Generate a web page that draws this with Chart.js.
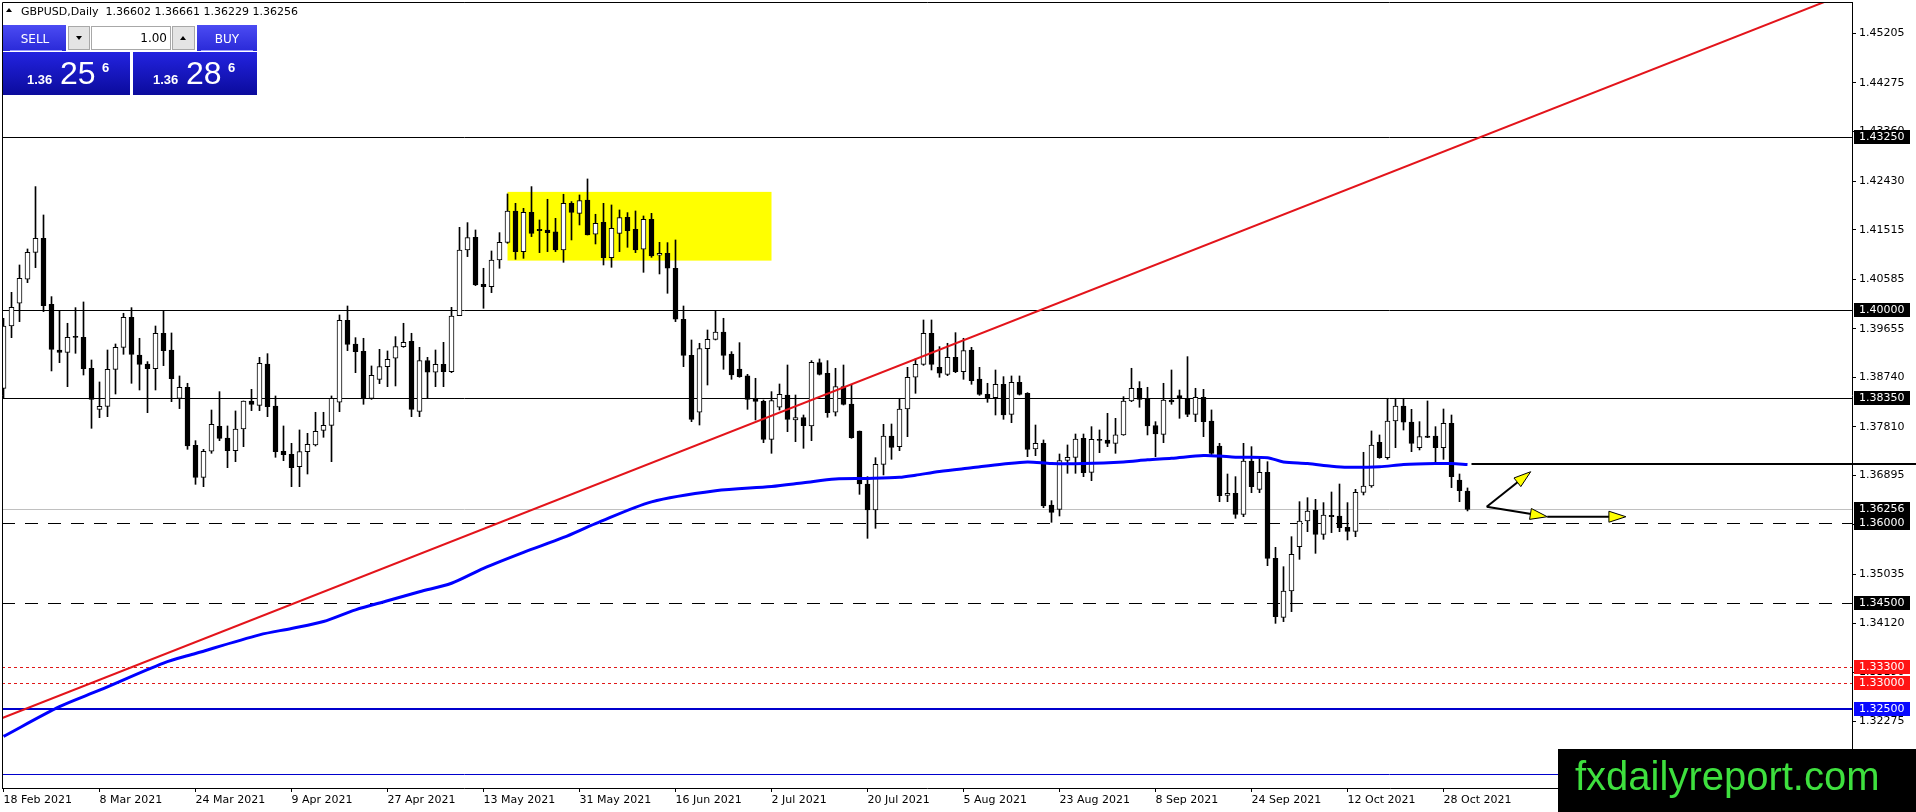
<!DOCTYPE html>
<html>
<head>
<meta charset="utf-8">
<title>GBPUSD, Daily</title>
<script src="https://cdn.jsdelivr.net/npm/chart.js@4.4.0/dist/chart.umd.min.js"></script>
<style>
  html, body { margin: 0; padding: 0; background: #fff; overflow: hidden; }
  #wrap { position: relative; width: 1916px; height: 812px; }
</style>
</head>
<body>
<div id="wrap"><canvas id="chart" width="1916" height="812"></canvas></div>
<script>
// ---- data ----
const dateLabels = ["18 Feb 2021", "8 Mar 2021", "24 Mar 2021", "9 Apr 2021", "27 Apr 2021", "13 May 2021",
  "31 May 2021", "16 Jun 2021", "2 Jul 2021", "20 Jul 2021", "5 Aug 2021", "23 Aug 2021",
  "8 Sep 2021", "24 Sep 2021", "12 Oct 2021", "28 Oct 2021"];
const dateBars = [0, 12, 24, 36, 48, 60, 72, 84, 96, 108, 120, 132, 144, 156, 168, 180];
const priceTicks = [1.45205, 1.44275, 1.43360, 1.42430, 1.41515, 1.40585, 1.39655, 1.38740,
  1.37810, 1.36895, 1.35965, 1.35035, 1.34120, 1.33190, 1.32275];

const opens = [1.38534,1.39705,1.40132,1.40583,1.41090,1.41353,1.40113,1.39254,1.39210,1.39492,
  1.39492,1.38910,1.38139,1.38195,1.38891,1.39304,1.39868,1.39160,1.38991,1.38903,
  1.39568,1.39254,1.38346,1.38553,1.37462,1.36861,1.37350,1.37819,1.37600,1.37362,
  1.37769,1.38296,1.38214,1.38991,1.38202,1.37350,1.37293,1.37061,1.37343,1.37469,
  1.37744,1.37838,1.38271,1.39812,1.39367,1.39229,1.38346,1.38703,1.38941,1.39098,
  1.39317,1.39417,1.38101,1.39054,1.38835,1.38985,1.38847,1.39900,1.41134,1.41372,
  1.40489,1.40445,1.40946,1.41278,1.41867,1.41103,1.41842,1.41523,1.41510,1.41473,
  1.41134,1.42011,1.41823,1.42074,1.41429,1.41654,1.40990,1.41447,1.41748,1.41523,
  1.41147,1.41711,1.41034,1.41071,1.40790,1.39831,1.39154,1.38083,1.39279,1.39455,
  1.39593,1.39179,1.38897,1.38766,1.38340,1.38289,1.37575,1.38177,1.38408,1.37938,
  1.37982,1.37826,1.39016,1.38816,1.38083,1.38565,1.38239,1.37732,1.36735,1.36247,
  1.37105,1.37638,1.37437,1.38145,1.38741,1.38985,1.39568,1.38928,1.38797,1.39116,
  1.38847,1.39254,1.38709,1.38421,1.38358,1.38609,1.38045,1.38647,1.38440,1.37393,
  1.37500,1.36341,1.36259,1.37180,1.37237,1.37594,1.36955,1.37575,1.37563,1.37500,
  1.37657,1.38296,1.38534,1.38346,1.37832,1.37669,1.38314,1.38396,1.38346,1.38045,
  1.38365,1.37920,1.37450,1.36522,1.36560,1.36165,1.37168,1.36635,1.36955,1.35338,
  1.34229,1.34724,1.35557,1.36040,1.36247,1.35789,1.36146,1.36134,1.35921,1.35846,
  1.36579,1.36698,1.37519,1.37230,1.37920,1.38202,1.37901,1.37418,1.37638,1.37638,
  1.37418,1.37876,1.36811,1.36602];
const highs = [1.39850,1.40338,1.40852,1.41153,1.42325,1.41792,1.40257,1.40000,1.39756,1.40050,
  1.40157,1.39066,1.38653,1.39254,1.39367,1.39944,1.40050,1.39474,1.39035,1.39705,
  1.40000,1.39574,1.38766,1.38628,1.37550,1.37387,1.38126,1.38471,1.37826,1.38108,
  1.38296,1.38515,1.39116,1.39185,1.38390,1.37826,1.37500,1.37751,1.37688,1.38083,
  1.38083,1.38390,1.39912,1.40081,1.39486,1.39474,1.38954,1.39267,1.39236,1.39505,
  1.39756,1.39568,1.39304,1.39116,1.39254,1.39398,1.40056,1.41560,1.41648,1.41510,
  1.40790,1.41115,1.41460,1.42187,1.42011,1.41917,1.42325,1.41698,1.42087,1.41729,
  1.42181,1.42043,1.42168,1.42469,1.41805,1.42011,1.41980,1.41886,1.41836,1.41867,
  1.41773,1.41823,1.41278,1.41272,1.41322,1.40081,1.39442,1.39380,1.39630,1.40000,
  1.39850,1.39223,1.39392,1.38797,1.38722,1.38314,1.38471,1.38615,1.38972,1.38408,
  1.38032,1.39054,1.39085,1.39054,1.38910,1.38972,1.38609,1.37732,1.36873,1.37230,
  1.37857,1.37863,1.38346,1.38928,1.39085,1.39818,1.39818,1.39317,1.39380,1.39580,
  1.39474,1.39304,1.38928,1.38628,1.38878,1.38753,1.38766,1.38766,1.38452,1.37844,
  1.37563,1.36422,1.37299,1.37469,1.37675,1.37675,1.37813,1.37751,1.38064,1.37970,
  1.38377,1.38910,1.38659,1.38553,1.37907,1.38628,1.38878,1.38502,1.39129,1.38534,
  1.38515,1.38127,1.37500,1.36923,1.36873,1.37500,1.37437,1.37249,1.37155,1.35545,
  1.35181,1.35745,1.36403,1.36478,1.36447,1.36385,1.36585,1.36735,1.36385,1.36635,
  1.37331,1.37732,1.37657,1.38346,1.38346,1.38346,1.38139,1.37907,1.38296,1.37813,
  1.38145,1.38032,1.36923,1.36661];
const lows = [1.38346,1.39486,1.39787,1.40520,1.40802,1.39975,1.38860,1.39016,1.38565,1.39192,
  1.38784,1.37782,1.37982,1.38001,1.38427,1.39173,1.38628,1.38502,1.38076,1.38502,
  1.38960,1.38283,1.38152,1.37387,1.36729,1.36685,1.37312,1.37550,1.37042,1.37155,
  1.37437,1.38114,1.38114,1.38001,1.37237,1.37174,1.36685,1.36685,1.36923,1.37450,
  1.37613,1.37155,1.38095,1.39242,1.38828,1.38233,1.38327,1.38621,1.38565,1.38578,
  1.39304,1.38001,1.38001,1.38346,1.38565,1.38565,1.38828,1.39900,1.41009,1.40464,
  1.40038,1.40332,1.40790,1.41259,1.40959,1.40977,1.41385,1.41084,1.41103,1.41103,
  1.40902,1.41322,1.41604,1.41416,1.41247,1.40852,1.40808,1.41103,1.41184,1.41084,
  1.40714,1.40996,1.40683,1.40320,1.39787,1.38941,1.37907,1.37844,1.38596,1.39442,
  1.38891,1.38703,1.38741,1.38139,1.37938,1.37512,1.37312,1.38126,1.37719,1.37531,
  1.37406,1.37550,1.38784,1.37989,1.38014,1.38220,1.37594,1.36541,1.35714,1.35902,
  1.36905,1.37199,1.37362,1.37625,1.38440,1.38966,1.38878,1.38741,1.38772,1.38828,
  1.38703,1.38609,1.38402,1.38271,1.38032,1.37951,1.37888,1.38408,1.37249,1.37268,
  1.36290,1.36015,1.36134,1.36936,1.36936,1.36873,1.36798,1.37324,1.37437,1.37312,
  1.37650,1.38283,1.38177,1.37657,1.37249,1.37512,1.38233,1.37970,1.38001,1.37907,
  1.37625,1.37281,1.36403,1.36403,1.36090,1.36121,1.36572,1.36572,1.35200,1.34116,
  1.34148,1.34336,1.35319,1.35839,1.35432,1.35695,1.35821,1.35839,1.35683,1.35745,
  1.36529,1.36673,1.37218,1.37199,1.37418,1.37750,1.37343,1.37375,1.37606,1.37124,
  1.37199,1.36667,1.36403,1.36229];
const closes = [1.39705,1.40056,1.40602,1.41090,1.41353,1.40088,1.39267,1.39210,1.39492,1.39490,
  1.38903,1.38327,1.38195,1.38891,1.39304,1.39868,1.39173,1.38985,1.38903,1.39568,
  1.39242,1.38715,1.38553,1.37450,1.36861,1.37350,1.37857,1.37594,1.37362,1.37769,
  1.38296,1.38233,1.39004,1.38189,1.37343,1.37287,1.37042,1.37343,1.37481,1.37725,
  1.37838,1.38346,1.39812,1.39361,1.39223,1.38346,1.38778,1.38941,1.39079,1.39317,
  1.39398,1.38139,1.39054,1.38835,1.38985,1.38847,1.39893,1.41134,1.41366,1.40476,
  1.40445,1.40946,1.41278,1.41867,1.41103,1.41842,1.41447,1.41498,1.41460,1.41134,
  1.42011,1.41842,1.42062,1.41416,1.41635,1.40990,1.41541,1.41742,1.41498,1.41134,
  1.41711,1.41021,1.41071,1.40790,1.39831,1.39154,1.37951,1.39279,1.39455,1.39593,
  1.39154,1.38784,1.38753,1.38327,1.38289,1.37575,1.38302,1.38421,1.37951,1.37982,
  1.37832,1.39023,1.38797,1.38076,1.38565,1.38233,1.37606,1.36735,1.36247,1.37105,
  1.37638,1.37425,1.38145,1.38741,1.38985,1.39568,1.38985,1.38816,1.39116,1.38847,
  1.39242,1.38678,1.38421,1.38358,1.38609,1.38032,1.38647,1.38421,1.37387,1.37500,
  1.36322,1.36203,1.37174,1.37237,1.37581,1.36948,1.37575,1.37556,1.37500,1.37657,
  1.38296,1.38534,1.38327,1.37826,1.37675,1.38314,1.38277,1.38346,1.38045,1.38365,
  1.37907,1.37312,1.36516,1.36560,1.36165,1.37168,1.36685,1.36955,1.35338,1.34242,
  1.34724,1.35413,1.36040,1.36228,1.35789,1.36153,1.36121,1.35915,1.35846,1.36579,
  1.36698,1.37469,1.37230,1.37920,1.38202,1.37895,1.37500,1.37625,1.37613,1.37418,
  1.37876,1.36873,1.36610,1.36256];

const maBars = [0, 7, 12, 20, 24, 32, 36, 40, 44, 48, 52, 56, 60, 65, 70, 74, 81, 89, 96, 100,
  104, 108, 112, 114, 117, 121, 125, 128, 131, 135, 140, 143, 146, 150, 152, 154, 158, 160,
  163, 166, 168, 172, 175, 179, 181, 183];
const maValues = [1.3199, 1.3255, 1.3286, 1.3337, 1.3355, 1.3390, 1.3402, 1.3415, 1.3437, 1.3454,
  1.3471, 1.3487, 1.3515, 1.3545, 1.3573, 1.3599, 1.3640, 1.3661, 1.3669, 1.3676,
  1.3683, 1.3684, 1.3686, 1.3690, 1.3697, 1.3704, 1.3711, 1.3715, 1.3712, 1.3712,
  1.3715, 1.3719, 1.3722, 1.3727, 1.3726, 1.3724, 1.3723, 1.3715, 1.3712, 1.3707,
  1.3705, 1.3706, 1.3710, 1.3712, 1.3712, 1.3710];

const trendBars = [-1, 230];
const trendPrices = [1.32285, 1.45937];
const boxBars = [63, 96];
const boxPrices = [1.42226, 1.40934];
const solidLevels = [1.43250, 1.40000, 1.38350];
const dashedLevels = [1.36000, 1.34500];
const dottedLevels = [1.33300, 1.33000];
const blueLevels = [1.32500];
const thinBlueLevels = [1.31280];
const bidPrice = 1.36256;
const askPrice = 1.36286;
const lotSize = "1.00";
const maEndLevel = 1.37120;
const maEndBar = 183.5;
const arrowFrom = [[185.4, 1.36308], [185.4, 1.36308], [192.97, 1.36120]];
const arrowTo = [[190.9, 1.36966], [192.97, 1.36120], [202.8, 1.36120]];

// ---- chart ----
const FONT = "DejaVu Sans";
const last = closes.length - 1;
const bodyData = opens.map((o, i) => ({ x: i, y: [o, closes[i]] }));
const wickData = lows.map((l, i) => ({ x: i, y: [l, highs[i]] }));
const bodyFill = opens.map((o, i) => (closes[i] > o ? "#ffffff" : "#000000"));

function hline(ctx, area, y, price, color, width, dash, x0, x1) {
  const py = Math.round(y.getPixelForValue(price)) + (width % 2 ? 0.5 : 0);
  ctx.beginPath();
  ctx.setLineDash(dash || []);
  ctx.strokeStyle = color;
  ctx.lineWidth = width;
  ctx.moveTo(x0 !== undefined ? x0 : area.left, py);
  ctx.lineTo(x1 !== undefined ? x1 : area.right, py);
  ctx.stroke();
  ctx.setLineDash([]);
}

function priceBox(ctx, y, price, fill) {
  const py = Math.round(y.getPixelForValue(price));
  ctx.fillStyle = fill;
  ctx.fillRect(1854, py - 7, 56, 14);
  ctx.fillStyle = "#ffffff";
  ctx.font = "11px '" + FONT + "'";
  ctx.textAlign = "left";
  ctx.textBaseline = "middle";
  ctx.fillText(price.toFixed(5), 1859, py + 0.5);
}

function arrow(ctx, x, y, from, to) {
  const x0 = x.getPixelForValue(from[0]), y0 = y.getPixelForValue(from[1]);
  const x1 = x.getPixelForValue(to[0]), y1 = y.getPixelForValue(to[1]);
  const ang = Math.atan2(y1 - y0, x1 - x0);
  ctx.strokeStyle = "#000";
  ctx.lineWidth = 2;
  ctx.beginPath();
  ctx.moveTo(x0, y0);
  ctx.lineTo(x1 - 10 * Math.cos(ang), y1 - 10 * Math.sin(ang));
  ctx.stroke();
  const len = 17, half = 5.5;
  const bx = x1 - len * Math.cos(ang), by = y1 - len * Math.sin(ang);
  ctx.beginPath();
  ctx.moveTo(x1, y1);
  ctx.lineTo(bx + half * Math.sin(ang), by - half * Math.cos(ang));
  ctx.lineTo(bx - half * Math.sin(ang), by + half * Math.cos(ang));
  ctx.closePath();
  ctx.fillStyle = "#ffff00";
  ctx.fill();
  ctx.lineWidth = 1;
  ctx.stroke();
}

function drawPanel(ctx) {
  const grad = (y0, y1, c0, c1) => {
    const g = ctx.createLinearGradient(0, y0, 0, y1);
    g.addColorStop(0, c0);
    g.addColorStop(1, c1);
    return g;
  };
  // header line
  ctx.fillStyle = "#000";
  ctx.beginPath();
  ctx.moveTo(6, 12); ctx.lineTo(12, 12); ctx.lineTo(9, 8); ctx.closePath();
  ctx.fill();
  ctx.font = "11px '" + FONT + "'";
  ctx.textAlign = "left";
  ctx.textBaseline = "alphabetic";
  const ohlc = [opens[last], highs[last], lows[last], closes[last]].map(v => v.toFixed(5)).join(" ");
  ctx.fillText("GBPUSD,Daily  " + ohlc, 21, 15);

  // SELL / BUY cells
  ctx.fillStyle = grad(25, 51, "#4b4bf3", "#2a2ad8");
  ctx.fillRect(3, 25, 63, 26);
  ctx.fillRect(197, 25, 60, 26);
  ctx.strokeStyle = "#9a9aff";
  ctx.lineWidth = 1;
  ctx.beginPath();
  ctx.moveTo(10, 50.5); ctx.lineTo(62, 50.5);
  ctx.moveTo(201, 50.5); ctx.lineTo(253, 50.5);
  ctx.stroke();
  // price boxes
  ctx.fillStyle = grad(52, 95, "#2323e0", "#0b0b9c");
  ctx.fillRect(3, 52, 127, 43);
  ctx.fillRect(133, 52, 124, 43);
  // lot spinner
  ctx.fillStyle = "#e4e4e4";
  ctx.fillRect(68, 26, 22, 24);
  ctx.fillRect(172, 26, 23, 24);
  ctx.fillStyle = "#ffffff";
  ctx.fillRect(91, 26, 80, 24);
  ctx.strokeStyle = "#a8a8a8";
  ctx.strokeRect(68.5, 26.5, 21, 23);
  ctx.strokeRect(91.5, 26.5, 79, 23);
  ctx.strokeRect(172.5, 26.5, 22, 23);
  ctx.fillStyle = "#000";
  ctx.beginPath();
  ctx.moveTo(76, 36); ctx.lineTo(82, 36); ctx.lineTo(79, 40); ctx.closePath();
  ctx.moveTo(180, 40); ctx.lineTo(186, 40); ctx.lineTo(183, 36); ctx.closePath();
  ctx.fill();
  ctx.font = "12px '" + FONT + "'";
  ctx.textAlign = "right";
  ctx.fillText(lotSize, 167, 42);
  ctx.fillStyle = "#ffffff";
  ctx.textAlign = "center";
  ctx.fillText("SELL", 35, 43);
  ctx.fillText("BUY", 227, 43);

  // big quotes
  const quote = (price, x) => {
    const s = price.toFixed(5);
    ctx.textAlign = "left";
    ctx.fillStyle = "#ffffff";
    ctx.font = "bold 13px 'Liberation Sans'";
    ctx.fillText(s.slice(0, 4), x, 84);
    ctx.font = "32px 'Liberation Sans'";
    ctx.fillText(s.slice(4, 6), x + 33, 84);
    ctx.font = "bold 13px 'Liberation Sans'";
    ctx.fillText(s.slice(6), x + 75, 72);
  };
  quote(bidPrice, 27);
  quote(askPrice, 153);
}

const overlay = {
  id: "mt4Overlay",
  beforeDatasetsDraw(chart) {
    const { ctx, chartArea: a, scales: { x, y } } = chart;
    ctx.save();
    ctx.beginPath();
    ctx.rect(a.left, a.top, a.right - a.left, a.bottom - a.top);
    ctx.clip();
    const bx0 = x.getPixelForValue(boxBars[0]), bx1 = x.getPixelForValue(boxBars[1]);
    const by0 = y.getPixelForValue(boxPrices[0]), by1 = y.getPixelForValue(boxPrices[1]);
    ctx.fillStyle = "#ffff00";
    ctx.fillRect(bx0, by0, bx1 - bx0, by1 - by0);
    solidLevels.forEach(p => hline(ctx, a, y, p, "#000", 1));
    hline(ctx, a, y, bidPrice, "#c0c0c0", 1);
    dashedLevels.forEach(p => hline(ctx, a, y, p, "#000", 1, [13, 10]));
    dottedLevels.forEach(p => hline(ctx, a, y, p, "#e01818", 1, [3, 3]));
    blueLevels.forEach(p => hline(ctx, a, y, p, "#0000cc", 2));
    thinBlueLevels.forEach(p => hline(ctx, a, y, p, "#0000cc", 1));
    ctx.restore();
  },
  afterDraw(chart) {
    const { ctx, chartArea: a, scales: { x, y } } = chart;
    ctx.save();
    // frame
    ctx.strokeStyle = "#000";
    ctx.lineWidth = 1;
    ctx.beginPath();
    ctx.moveTo(a.left + 0.5, a.bottom);
    ctx.lineTo(a.left + 0.5, a.top + 0.5);
    ctx.lineTo(a.right, a.top + 0.5);
    ctx.stroke();
    // level of the moving average at the last bar
    hline(ctx, a, y, maEndLevel, "#000", 2, null, x.getPixelForValue(maEndBar), 1916);
    // arrows
    arrowFrom.forEach((f, i) => arrow(ctx, x, y, f, arrowTo[i]));
    // price tags on the axis
    solidLevels.forEach(p => priceBox(ctx, y, p, "#000"));
    priceBox(ctx, y, bidPrice, "#000");
    dashedLevels.forEach(p => priceBox(ctx, y, p, "#000"));
    dottedLevels.forEach(p => priceBox(ctx, y, p, "#ff1414"));
    blueLevels.forEach(p => priceBox(ctx, y, p, "#0a0aff"));
    drawPanel(ctx);
    // watermark
    ctx.fillStyle = "#000";
    ctx.fillRect(1558, 749, 358, 63);
    ctx.fillStyle = "#3ee03e";
    ctx.font = "40px 'Liberation Sans'";
    ctx.textAlign = "left";
    ctx.textBaseline = "alphabetic";
    ctx.fillText("fxdailyreport.com", 1575, 790);
    ctx.restore();
  }
};

new Chart(document.getElementById("chart"), {
  type: "bar",
  data: {
    datasets: [
      {
        type: "line",
        data: trendBars.map((b, i) => ({ x: b, y: trendPrices[i] })),
        borderColor: "#e3141b",
        borderWidth: 2,
        pointRadius: 0,
        clip: 0,
        order: 0,
      },
      {
        type: "line",
        data: maBars.map((b, i) => ({ x: b, y: maValues[i] })),
        borderColor: "#0000ff",
        borderWidth: 3,
        pointRadius: 0,
        tension: 0.3,
        clip: 0,
        order: 1,
      },
      {
        data: bodyData,
        backgroundColor: bodyFill,
        borderColor: "#000",
        borderWidth: 1,
        borderSkipped: false,
        barThickness: 5,
        minBarLength: 1,
        grouped: false,
        order: 2,
      },
      {
        data: wickData,
        backgroundColor: "#000",
        borderWidth: 0,
        barThickness: 1,
        grouped: false,
        order: 3,
      },
    ],
  },
  options: {
    responsive: false,
    devicePixelRatio: 1,
    animation: false,
    events: [],
    layout: { padding: { left: 2, top: 2, right: 0, bottom: 0 } },
    plugins: { legend: { display: false }, tooltip: { enabled: false } },
    scales: {
      x: {
        type: "linear",
        min: -0.1875,
        max: 231.0625,
        offset: false,
        grid: { drawOnChartArea: false, tickLength: 4, color: "#000", offset: false },
        border: { color: "#000" },
        ticks: {
          align: "start",
          maxRotation: 0,
          autoSkip: false,
          padding: 2,
          color: "#000",
          font: { family: FONT, size: 11 },
          callback: (v) => dateLabels[dateBars.indexOf(v)],
        },
        afterBuildTicks: (s) => { s.ticks = dateBars.map(v => ({ value: v })); },
        afterFit: (s) => { s.height = 24; s.paddingLeft = 0; s.paddingRight = 0; },
      },
      y: {
        type: "linear",
        position: "right",
        min: 1.31021,
        max: 1.45795,
        beginAtZero: false,
        grid: { drawOnChartArea: false, tickLength: 4, color: "#000" },
        border: { color: "#000" },
        ticks: {
          padding: 3,
          color: "#000",
          font: { family: FONT, size: 11 },
          callback: (v) => v.toFixed(5),
        },
        afterBuildTicks: (s) => { s.ticks = priceTicks.map(v => ({ value: v })); },
        afterFit: (s) => { s.width = 64; s.paddingTop = 0; s.paddingBottom = 0; },
      },
    },
  },
  plugins: [overlay],
});
</script>
</body>
</html>
